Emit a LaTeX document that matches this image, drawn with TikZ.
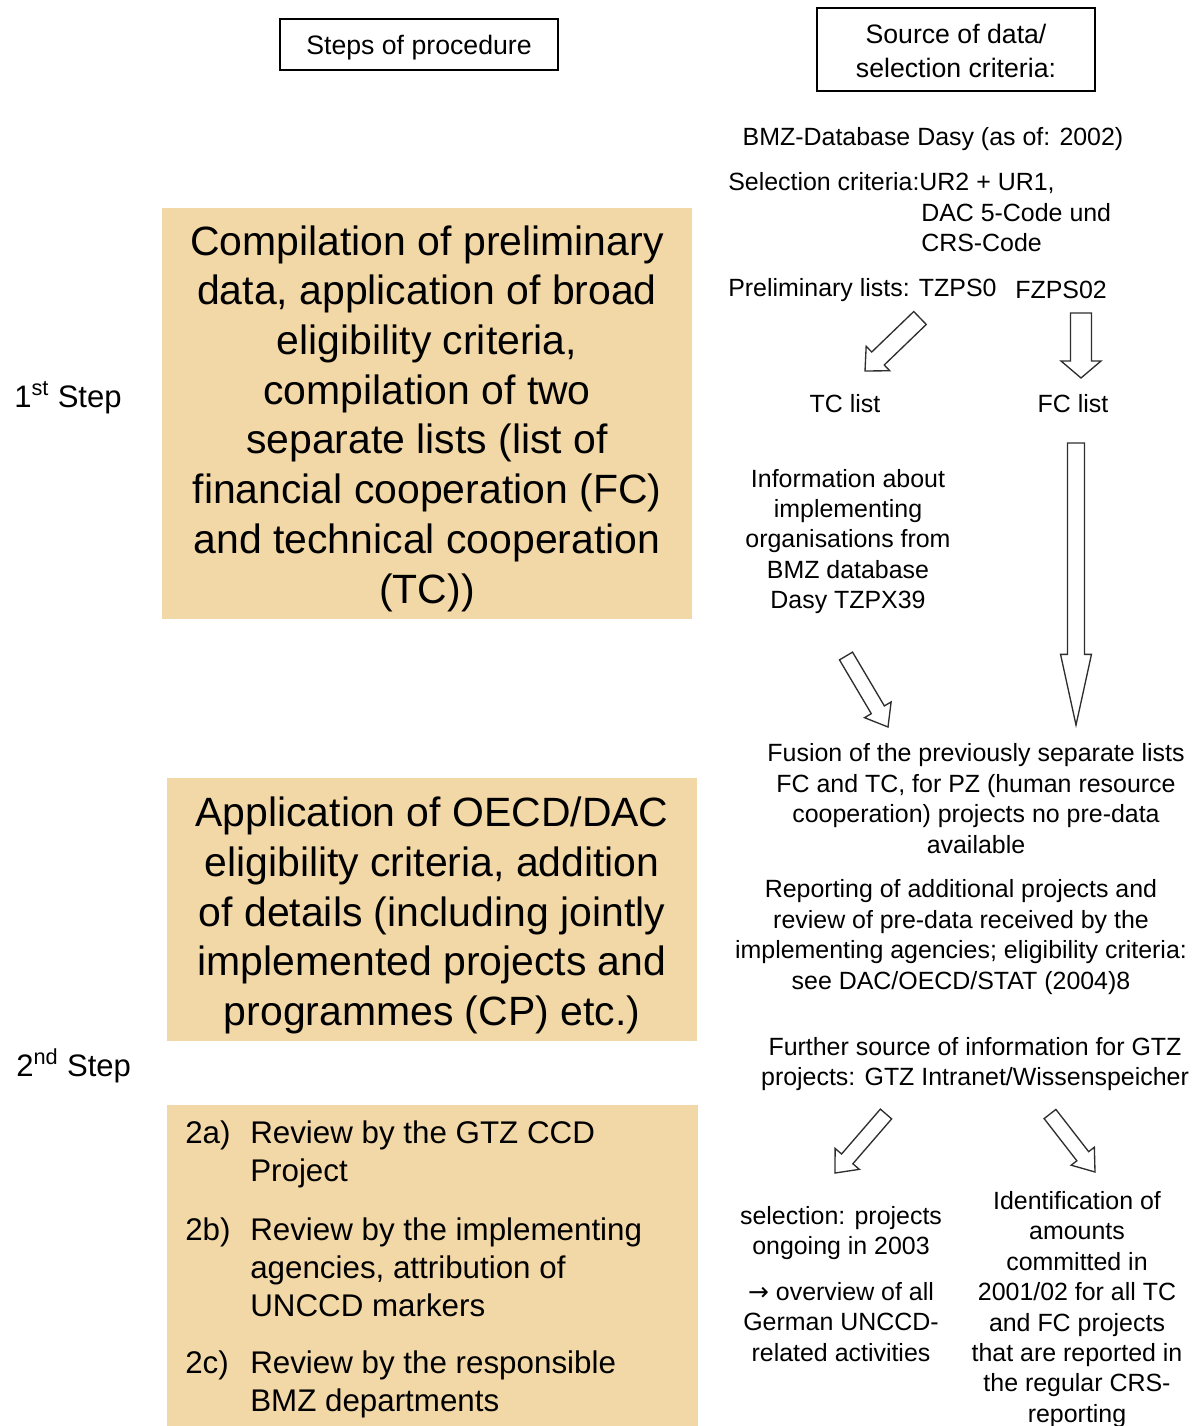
\documentclass[tikz,border=0pt]{standalone}
\usepackage{fontspec}
\setmainfont{Liberation Sans}
\newfontfamily\arrowfont{DejaVu Sans}
\usetikzlibrary{calc}
\definecolor{boxfill}{HTML}{F3D8A7}
\definecolor{arrowline}{HTML}{2E2E2E}
\tikzset{
  hdrbox/.style={draw=black, line width=1pt, inner sep=0pt},
  hdr/.style={align=center, inner sep=0pt, font=\fontsize{20pt}{25.5pt}\selectfont},
  src/.style={align=center, inner sep=0pt, font=\fontsize{18.7pt}{22.8pt}\selectfont},
  srcl/.style={anchor=west, inner sep=0pt, font=\fontsize{18.7pt}{22.8pt}\selectfont},
  bigbox/.style={fill=boxfill, inner sep=0pt},
  bigtext/.style={align=center, inner sep=0pt, font=\fontsize{30.7pt}{37.3pt}\selectfont},
  itemlbl/.style={anchor=north west, inner sep=0pt, font=\fontsize{23.5pt}{28.5pt}\selectfont},
  itemtxt/.style={anchor=north west, align=left, inner sep=0pt,
    font=\fontsize{23.5pt}{28.5pt}\selectfont},
  steplbl/.style={anchor=west, inner sep=0pt, font=\fontsize{23.3pt}{28pt}\selectfont},
  blockarrow/.style={draw=arrowline, line width=1pt, fill=white, line join=miter}
}
% tail, tip, shaft half width, head half width, head length
\newcommand\blockarr[5]{%
  \draw[blockarrow] let \p1=($(#2)-(#1)$), \n1={atan2(\y1,\x1)} in
    ($(#1)+(\n1+90:#3)$) -- ($(#2)+(\n1+180:#5)+(\n1+90:#3)$)
    -- ($(#2)+(\n1+180:#5)+(\n1+90:#4)$) -- (#2)
    -- ($(#2)+(\n1+180:#5)+(\n1-90:#4)$) -- ($(#2)+(\n1+180:#5)+(\n1-90:#3)$)
    -- ($(#1)+(\n1-90:#3)$) -- cycle;}
\begin{document}
\begin{tikzpicture}[x=0.75pt,y=-0.75pt]
\useasboundingbox (0,0) rectangle (1197,1426);
% header boxes
\node[hdrbox, minimum width=208.5pt, minimum height=38.25pt] (hdrA) at (419,44.5) {};
\node[hdr] (hdrAt) at (419,47.5) {Steps of procedure};
\node[hdrbox, minimum width=208.5pt, minimum height=62.25pt] (hdrB) at (956,49.5) {};
\node[hdr] (hdrBt) at (956,50.5) {Source of data/\\selection criteria:};
% step labels
\node[steplbl] (step1) at (14,398) {1\textsuperscript{st} Step};
\node[steplbl] (step2) at (16,1066) {2\textsuperscript{nd} Step};
% left boxes
\node[bigbox, minimum width=397.5pt, minimum height=308.25pt] (box1) at (427,413.5) {};
\node[bigtext] (box1t) at (427,418.5)
  {Compilation of preliminary\\data, application of broad\\eligibility criteria,\\compilation of two\\separate lists (list of\\financial cooperation (FC)\\and technical cooperation\\(TC))};
\node[bigbox, minimum width=397.5pt, minimum height=197.25pt] (box2) at (432,909.5) {};
\node[bigtext] (box2t) at (432,915.5)
  {Application of OECD/DAC\\eligibility criteria, addition\\of details (including jointly\\implemented projects and\\programmes (CP) etc.)};
\fill[boxfill] (167,1105) rectangle (698,1440);
\node[itemlbl] (l2a) at (185,1121) {2a)};
\node[itemtxt] (t2a) at (250,1121) {Review by the GTZ CCD\\Project};
\node[itemlbl] (l2b) at (185,1218) {2b)};
\node[itemtxt] (t2b) at (250,1218) {Review by the implementing\\agencies, attribution of\\UNCCD markers};
\node[itemlbl] (l2c) at (185,1351) {2c)};
\node[itemtxt] (t2c) at (250,1351) {Review by the responsible\\BMZ departments};
% right column texts
\node[src] (bmz) at (933,139) {BMZ-Database Dasy (as of: 2002)};
\node[srcl] (sel) at (728,183) {Selection criteria:UR2 + UR1,};
\node[srcl] (dac) at (921,213) {DAC 5-Code und};
\node[srcl] (crs) at (921,243) {CRS-Code};
\node[srcl] (prel) at (728,290) {Preliminary lists: TZPS0};
\node[srcl] (fzps) at (1015,290) {FZPS02};
\node[src] (tcl) at (845,404) {TC list};
\node[src] (fcl) at (1073,404) {FC list};
\node[src] (info) at (848,541.5) {Information about\\implementing\\organisations from\\BMZ database\\Dasy TZPX39};
\node[src] (fusion) at (976,798.5) {Fusion of the previously separate lists\\FC and TC, for PZ (human resource\\cooperation) projects no pre-data\\available};
\node[src] (report) at (961,937) {Reporting of additional projects and\\review of pre-data received by the\\implementing agencies; eligibility criteria:\\see DAC/OECD/STAT (2004)8};
\node[src] (further) at (975,1064) {Further source of information for GTZ\\projects: GTZ Intranet/Wissenspeicher};
\node[src] (selection) at (841,1233) {selection: projects\\ongoing in 2003};
\node[src] (overview) at (841,1322) {{\arrowfont→} overview of all\\German UNCCD-\\related activities};
\node[src] (ident) at (1077,1309.5) {Identification of\\amounts\\committed in\\2001/02 for all TC\\and FC projects\\that are reported in\\the regular CRS-\\reporting};
% block arrows
\coordinate (a1s) at (920,318);  \coordinate (a1e) at (865,371);
\coordinate (a2s) at (1081,313); \coordinate (a2e) at (1081,378);
\coordinate (a3s) at (846,656);  \coordinate (a3e) at (888,727);
\coordinate (a4s) at (1076,443); \coordinate (a4e) at (1076,725);
\coordinate (a5s) at (886,1114); \coordinate (a5e) at (835,1173);
\coordinate (a6s) at (1050,1114);\coordinate (a6e) at (1095,1172);
\blockarr{a1s}{a1e}{6.75pt}{12.75pt}{13.5pt}
\blockarr{a2s}{a2e}{7.9pt}{15pt}{12.75pt}
\blockarr{a3s}{a3e}{5.7pt}{11.6pt}{15pt}
\blockarr{a4s}{a4e}{6.4pt}{11.6pt}{53pt}
\blockarr{a5s}{a5e}{5.6pt}{12pt}{14pt}
\blockarr{a6s}{a6e}{5.6pt}{11pt}{15pt}
\end{tikzpicture}
\end{document}
